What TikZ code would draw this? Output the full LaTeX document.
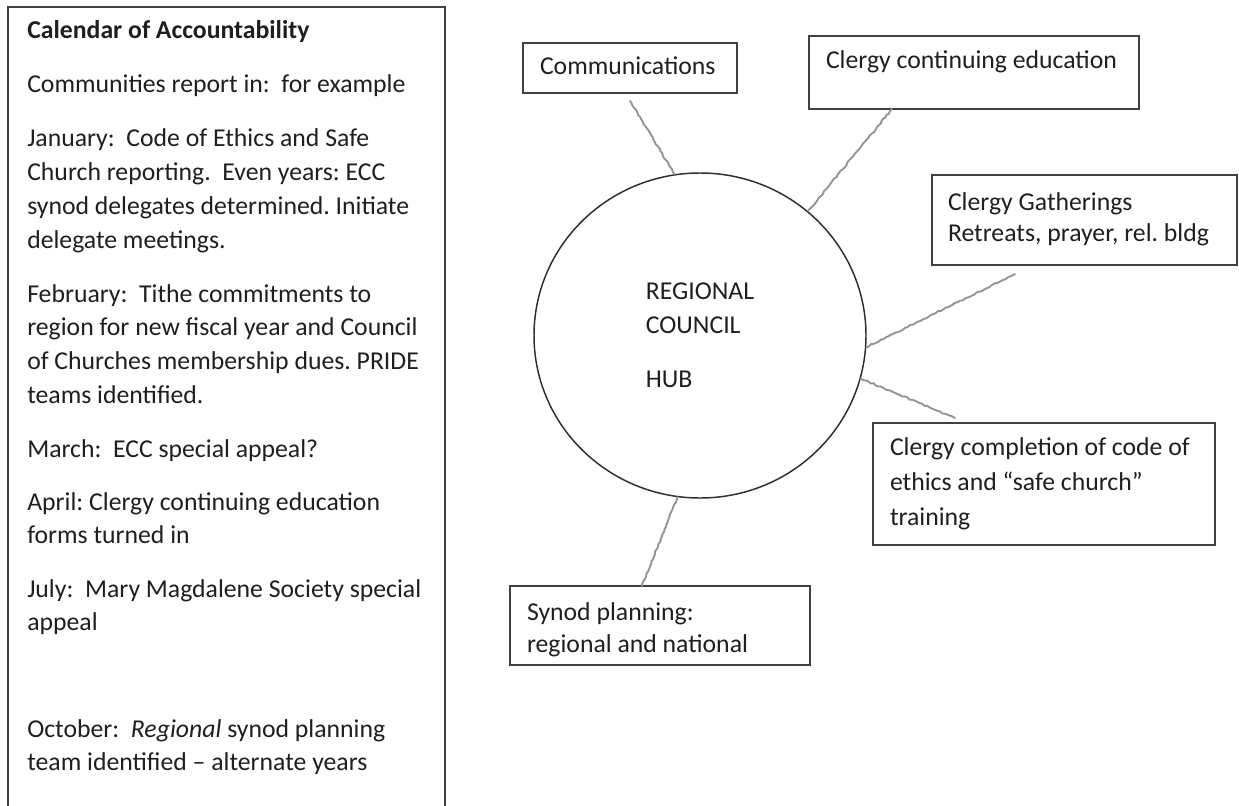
\documentclass[tikz,border=0pt]{standalone}
\usepackage{fontspec}
\setmainfont{Carlito}
\usetikzlibrary{shapes.geometric,decorations.pathmorphing,calc}
\begin{document}
\begin{tikzpicture}[x=0.75pt,y=-0.75pt,
  every node/.style={text=black!88,
    execute at begin node={\spaceskip=0pt\xspaceskip=0pt\frenchspacing}},
  frame/.style={draw=black!75, line width=1.1pt},
  box/.style={draw=black!75, line width=1.1pt, rectangle, anchor=north west,
    inner ysep=0pt, outer sep=0pt, align=left},
  para/.style={anchor=base west, inner sep=0pt, text width=311pt, align=left,
    font=\fontsize{19.3pt}{25.3pt}\selectfont},
  conn/.style={draw=black!42, line width=1.4pt, line cap=round, decorate,
    decoration={random steps, segment length=2pt, amplitude=0.5pt}},
]
\pgfmathsetseed{7}
\path[use as bounding box, fill=white] (0,0) rectangle (1239,806);
\clip (0,0) rectangle (1239,806);

% Left calendar frame
\draw[frame] (8,7) rectangle (445,840);
\node[para] (p1) at (27,39) {\textbf{Calendar of Accountability}};
\node[para] (p2) at (27,93) {Communities report in:\ \ for example};
\node[para] (p3) at (27,147) {January:\ \ Code of Ethics and Safe\\
Church reporting.\ \ Even years: ECC\\
synod delegates determined. Initiate\\
delegate meetings.};
\node[para] (p4) at (27,302) {February:\ \ Tithe commitments to\\
region for new fiscal year and Council\\
of Churches membership dues. PRIDE\\
teams identified.};
\node[para] (p5) at (27,457) {March:\ \ ECC special appeal?};
\node[para] (p6) at (27,510) {April: Clergy continuing education\\
forms turned in};
\node[para] (p7) at (27,597) {July:\ \ Mary Magdalene Society special\\
appeal};
\node[para] (p8) at (27,737) {October:\ \ \textit{Regional} synod planning\\
team identified – alternate years};

% Hub
\node[ellipse, draw=black!82, line width=1.1pt, minimum width=249pt,
  minimum height=243.75pt, inner sep=0pt, align=left,
  font=\fontsize{19.3pt}{25.5pt}\selectfont] (hub) at (700,335.5)
  {REGIONAL\\COUNCIL\\[15pt]HUB};

% Boxes
\node[box, font=\fontsize{19.3pt}{24pt}\selectfont, inner xsep=12.75pt,
  text width=135pt, text height=24pt, text depth=13.5pt] (comm) at (523,43)
  {Communications};
\node[box, font=\fontsize{19.3pt}{24pt}\selectfont, inner xsep=12.75pt,
  text width=222pt, text height=24.75pt, text depth=30pt] (ced) at (809,36)
  {Clergy continuing education};
\node[box, font=\fontsize{19.3pt}{24pt}\selectfont, inner xsep=12pt,
  text width=204.75pt, text height=26.25pt, text depth=41.25pt] (gath) at (932,175)
  {Clergy Gatherings\\Retreats, prayer, rel. bldg};
\node[box, font=\fontsize{19.3pt}{26.25pt}\selectfont, inner xsep=12.75pt,
  text width=231pt, text height=24pt, text depth=67.5pt] (comp) at (873,423)
  {Clergy completion of code of\\ethics and “safe church”\\training};
\node[box, font=\fontsize{19.3pt}{24pt}\selectfont, inner xsep=12.75pt,
  text width=199.5pt, text height=25.5pt, text depth=33.75pt] (syn) at (510,586)
  {Synod planning:\\regional and national};

% Connectors
\draw[conn] ([yshift=-6pt]comm.south) -- (hub.99.8);
\draw[conn] ([xshift=62.25pt]ced.south west) -- (hub.49);
\draw[conn] ([xshift=62.25pt,yshift=-6.75pt]gath.south west) -- (hub.-4.3);
\draw[conn] (hub.-15.3) -- ([xshift=61.5pt,yshift=3.75pt]comp.north west);
\draw[conn] (hub.-98.8) -- ([xshift=99pt]syn.north west);
\end{tikzpicture}
\end{document}
